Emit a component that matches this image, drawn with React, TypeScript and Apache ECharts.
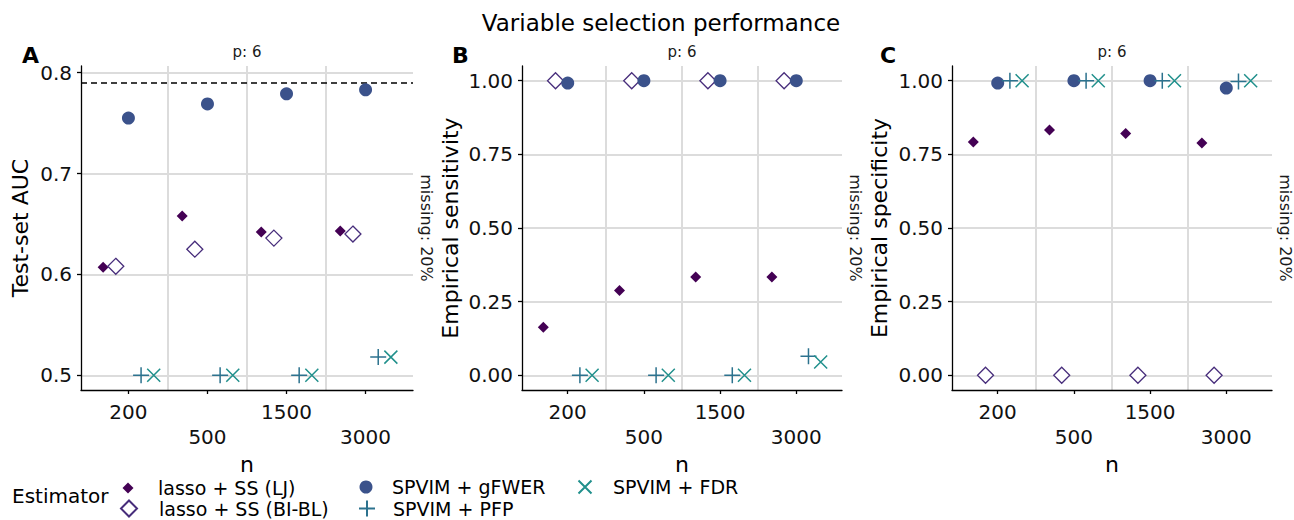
import React, { useEffect, useRef } from "react";
import * as echarts from "echarts";

const categories = ["200", "500", "1500", "3000"];
const estimators = [
  "lasso + SS (LJ)",
  "lasso + SS (BI-BL)",
  "SPVIM + gFWER",
  "SPVIM + PFP",
  "SPVIM + FDR",
];

// Panel A: Test-set AUC
const aucLJ = [0.607, 0.658, 0.642, 0.643];
const aucBIBL = [0.608, 0.625, 0.636, 0.64];
const aucGFWER = [0.755, 0.769, 0.779, 0.783];
const aucPFP = [0.5, 0.5, 0.5, 0.518];
const aucFDR = [0.5, 0.5, 0.5, 0.518];
const oracleAUC = 0.792;

// Panel B: Empirical sensitivity
const sensLJ = [0.163, 0.288, 0.334, 0.334];
const sensBIBL = [1, 1, 1, 1];
const sensGFWER = [0.992, 1, 1, 1];
const sensPFP = [0, 0, 0, 0.065];
const sensFDR = [0, 0, 0, 0.045];

// Panel C: Empirical specificity
const specLJ = [0.792, 0.833, 0.821, 0.789];
const specBIBL = [0, 0, 0, 0];
const specGFWER = [0.992, 1, 1, 0.975];
const specPFP = [1, 1, 1, 0.997];
const specFDR = [1, 1, 1, 1];

const aucTicks = [0.5, 0.6, 0.7, 0.8];
const propTicks = [0, 0.25, 0.5, 0.75, 1];

const colors = ["#440154", "#472D7B", "#3B528B", "#2C728E", "#21908C"];
const FONT = "DejaVu Sans";

const PLUS = "path://M0,5L10,5M5,0L5,10";
const CROSS = "path://M0,0L10,10M0,10L10,0";

const symbolDefs = [
  { symbol: "diamond", size: 11, itemStyle: { color: colors[0], opacity: 1 } },
  {
    symbol: "diamond",
    size: 16,
    itemStyle: { color: "#ffffff", borderColor: colors[1], borderWidth: 1.3, opacity: 1 },
  },
  { symbol: "circle", size: 13, itemStyle: { color: colors[2], opacity: 1 } },
  {
    symbol: PLUS,
    size: 16,
    itemStyle: { color: "transparent", borderColor: colors[3], borderWidth: 1.5, opacity: 1 },
  },
  {
    symbol: CROSS,
    size: 13,
    itemStyle: { color: "transparent", borderColor: colors[4], borderWidth: 1.5, opacity: 1 },
  },
];

// legend placement: icon centre and text start
const legendSlots = [
  { cx: 128, cy: 484, textX: 158 },
  { cx: 128, cy: 507, textX: 158 },
  { cx: 366, cy: 484, textX: 392 },
  { cx: 366, cy: 507, textX: 392 },
  { cx: 584, cy: 484, textX: 612 },
];

const panels = [
  {
    tag: "A",
    yName: "Test-set AUC",
    min: 0.4854,
    max: 0.8066,
    ticks: aucTicks,
    dec: 1,
    left: 81,
    width: 332,
    nameGap: 50,
    data: [aucLJ, aucBIBL, aucGFWER, aucPFP, aucFDR],
  },
  {
    tag: "B",
    yName: "Empirical sensitivity",
    min: -0.05,
    max: 1.05,
    ticks: propTicks,
    dec: 2,
    left: 522,
    width: 320,
    nameGap: 61,
    data: [sensLJ, sensBIBL, sensGFWER, sensPFP, sensFDR],
  },
  {
    tag: "C",
    yName: "Empirical specificity",
    min: -0.05,
    max: 1.05,
    ticks: propTicks,
    dec: 2,
    left: 952,
    width: 320,
    nameGap: 62,
    data: [specLJ, specBIBL, specGFWER, specPFP, specFDR],
  },
];

const TOP = 66;
const HEIGHT = 324;
const DODGE = 0.16;
const catPos = categories.map((_, i) => i + 1);
const gridPos = [1.5, 2.5, 3.5];
const GRID_COLOR = "#dcdcdc";

export default function App() {
  const ref = useRef<HTMLDivElement>(null);

  useEffect(() => {
    if (!ref.current) return;
    const chart = echarts.init(ref.current, undefined, { renderer: "svg" });

    const grids = panels.map((p) => ({
      left: p.left,
      top: TOP,
      width: p.width,
      height: HEIGHT,
      containLabel: false,
    }));

    const xAxes: any[] = [];
    panels.forEach((p, pi) => {
      xAxes.push({
        type: "value",
        gridIndex: pi,
        position: "bottom",
        min: 0.4,
        max: 4.6,
        name: "n",
        nameLocation: "middle",
        nameGap: 59,
        nameTextStyle: { fontFamily: FONT, fontSize: 22, lineHeight: 22, color: "#000" },
        axisLine: { show: true, onZero: false, lineStyle: { color: "#000", width: 1.3 } },
        axisTick: {
          show: true,
          customValues: catPos,
          length: 4,
          lineStyle: { color: "#000", width: 1.3 },
        },
        axisLabel: {
          customValues: catPos,
          margin: 9,
          fontFamily: FONT,
          fontSize: 20,
          color: "#111",
          lineHeight: 25,
          formatter: (v: number) => {
            const i = Math.round(v) - 1;
            const label = categories[i] ?? "";
            return i % 2 === 0 ? label : "\n" + label;
          },
        },
        splitLine: { show: false },
      });
      xAxes.push({
        type: "value",
        gridIndex: pi,
        position: "top",
        min: 0.4,
        max: 4.6,
        axisLine: { show: false, onZero: false },
        axisTick: { show: false, customValues: gridPos },
        axisLabel: { show: false, customValues: gridPos },
        splitLine: {
          show: true,
          customValues: gridPos,
          lineStyle: { color: GRID_COLOR, width: 2 },
        },
      });
    });

    const yAxes = panels.map((p, pi) => ({
      type: "value",
      gridIndex: pi,
      min: p.min,
      max: p.max,
      name: p.yName,
      nameLocation: "middle",
      nameGap: p.nameGap,
      nameTextStyle: { fontFamily: FONT, fontSize: 22, color: "#000" },
      axisLine: { show: true, onZero: false, lineStyle: { color: "#000", width: 1.3 } },
      axisTick: {
        show: true,
        customValues: p.ticks,
        length: 4,
        lineStyle: { color: "#000", width: 1.3 },
      },
      axisLabel: {
        customValues: p.ticks,
        margin: 9,
        fontFamily: FONT,
        fontSize: 20,
        color: "#111",
        formatter: (v: number) => v.toFixed(p.dec),
      },
      splitLine: {
        show: true,
        customValues: p.ticks,
        lineStyle: { color: GRID_COLOR, width: 2 },
      },
    }));

    const series: any[] = [];
    panels.forEach((p, pi) => {
      estimators.forEach((name, k) => {
        const sd = symbolDefs[k];
        const s: any = {
          type: "scatter",
          name,
          xAxisIndex: pi * 2,
          yAxisIndex: pi,
          symbol: sd.symbol,
          symbolSize: sd.size,
          itemStyle: sd.itemStyle,
          emphasis: { disabled: true },
          z: 3 + k,
          data: p.data[k].map((v, i) => [catPos[i] + (k - 2) * DODGE, v]),
        };
        if (pi === 0 && k === 2) {
          s.markLine = {
            silent: true,
            symbol: ["none", "none"],
            label: { show: false },
            lineStyle: { type: [6, 4], color: "#000", width: 1.5 },
            data: [{ yAxis: oracleAUC }],
          };
        }
        series.push(s);
      });
    });

    const legends = estimators.map((name, k) => {
      const size = symbolDefs[k].size;
      const slot = legendSlots[k];
      const left = slot.cx - size / 2;
      const pad = slot.textX - left - size - 5;
      return {
        orient: "vertical",
        left,
        top: slot.cy - size / 2,
        padding: 0,
        itemWidth: size,
        itemHeight: size,
        data: [name],
        selectedMode: false,
        textStyle: {
          fontFamily: FONT,
          fontSize: 19,
          color: "#000",
          rich: {
            t: {
              fontFamily: FONT,
              fontSize: 19,
              lineHeight: 20,
              color: "#000",
              padding: [0, 0, 0, pad],
            },
          },
        },
        formatter: (n: string) => `{t|${n}}`,
      };
    });

    const graphics: any[] = [];
    panels.forEach((p) => {
      const cx = p.left + p.width / 2;
      graphics.push({
        type: "text",
        x: cx,
        y: 52,
        style: {
          text: "p: 6",
          font: `15px "${FONT}"`,
          fill: "#1a1a1a",
          align: "center",
          verticalAlign: "middle",
        },
      });
      graphics.push({
        type: "text",
        x: p.left + p.width + 13,
        y: TOP + HEIGHT / 2,
        rotation: -Math.PI / 2,
        style: {
          text: "missing: 20%",
          font: `16px "${FONT}"`,
          fill: "#1a1a1a",
          align: "center",
          verticalAlign: "middle",
        },
      });
    });
    [
      { t: "A", x: 22 },
      { t: "B", x: 452 },
      { t: "C", x: 880 },
    ].forEach((g) =>
      graphics.push({
        type: "text",
        x: g.x,
        y: 55,
        style: {
          text: g.t,
          font: `bold 22px "${FONT}"`,
          fill: "#000",
          align: "left",
          verticalAlign: "middle",
        },
      })
    );
    graphics.push({
      type: "text",
      x: 12,
      y: 496,
      style: {
        text: "Estimator",
        font: `20px "${FONT}"`,
        fill: "#000",
        align: "left",
        verticalAlign: "middle",
      },
    });

    chart.setOption({
      animation: false,
      backgroundColor: "#ffffff",
      title: {
        text: "Variable selection performance",
        left: 656,
        textAlign: "center",
        top: 6,
        textStyle: { fontFamily: FONT, fontSize: 23, fontWeight: "normal", color: "#000" },
      },
      grid: grids,
      xAxis: xAxes,
      yAxis: yAxes,
      legend: legends,
      graphic: graphics,
      series,
    });

    return () => chart.dispose();
  }, []);

  return (
    <div
      ref={ref}
      style={{ position: "fixed", left: 0, top: 0, width: 1294, height: 520 }}
    />
  );
}
